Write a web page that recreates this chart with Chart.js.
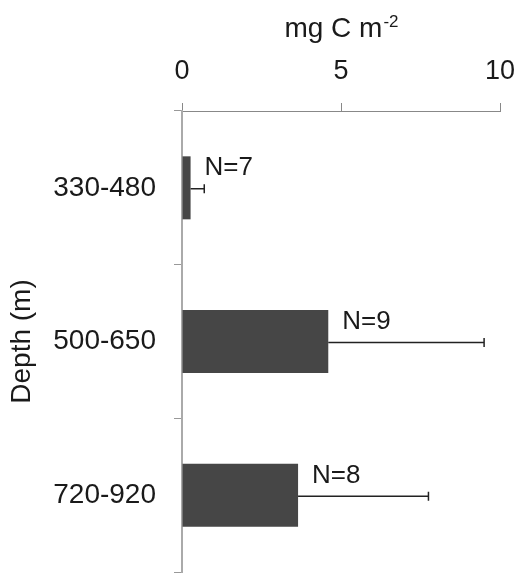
<!DOCTYPE html>
<html>
<head>
<meta charset="utf-8">
<script src="https://cdn.jsdelivr.net/npm/chart.js@4.4.0/dist/chart.umd.min.js"></script>
<style>
  html, body { margin: 0; padding: 0; background: #fff; }
</style>
</head>
<body>
<canvas id="myChart" width="517" height="574" style="width:517px;height:574px;display:block"></canvas>
<script>
// data
var depths = ['330-480', '500-650', '720-920'];
var carbon = [0.27, 4.6, 3.65];
var errors = [0.43, 4.9, 4.1];
var counts = ['N=7', 'N=9', 'N=8'];
var xTicks = [0, 5, 10];

var FONT = "'Liberation Sans', Arial, sans-serif";
var TEXT = '#1a1a1a';

// error bars + N labels
var extras = {
  id: 'extras',
  afterDatasetsDraw: function(chart) {
    var ctx = chart.ctx;
    var xs = chart.scales.x;
    var bars = chart.getDatasetMeta(0).data;
    ctx.save();
    for (var i = 0; i < bars.length; i++) {
      var b = bars[i];
      var x1 = xs.getPixelForValue(carbon[i]);
      var x2 = xs.getPixelForValue(carbon[i] + errors[i]);
      var y = b.y + 1;
      ctx.strokeStyle = '#222';
      ctx.lineWidth = 1.5;
      ctx.beginPath();
      ctx.moveTo(x1, y);
      ctx.lineTo(x2, y);
      ctx.moveTo(x2, y - 4.5);
      ctx.lineTo(x2, y + 4.5);
      ctx.stroke();

      ctx.fillStyle = TEXT;
      ctx.font = '26px ' + FONT;
      ctx.textAlign = 'left';
      ctx.textBaseline = 'alphabetic';
      ctx.fillText(counts[i], x1 + 14, b.y - b.height / 2 + 19);
    }
    ctx.restore();
  },
  afterDraw: function(chart) {
    // axis title with superscript
    var ctx = chart.ctx;
    var a = chart.chartArea;
    ctx.save();
    ctx.fillStyle = TEXT;
    ctx.textBaseline = 'alphabetic';
    ctx.textAlign = 'left';
    ctx.font = '28px ' + FONT;
    var main = 'mg C m';
    var w1 = ctx.measureText(main).width;
    ctx.font = '17px ' + FONT;
    var sup = '-2';
    var w2 = ctx.measureText(sup).width;
    var cx = (a.left + a.right) / 2;
    var x0 = cx - (w1 + w2) / 2;
    ctx.font = '28px ' + FONT;
    ctx.fillText(main, x0, 37);
    ctx.font = '17px ' + FONT;
    ctx.fillText(sup, x0 + w1 + 1, 27);
    ctx.restore();
  }
};

function noPad(scale) {
  scale.paddingLeft = 0;
  scale.paddingRight = 0;
  scale.paddingTop = 0;
  scale.paddingBottom = 0;
}

var ctx = document.getElementById('myChart').getContext('2d');
var myChart = new Chart(ctx, {
  type: 'bar',
  data: {
    labels: depths,
    datasets: [{
      data: carbon,
      backgroundColor: '#464646',
      borderWidth: 0,
      categoryPercentage: 1,
      barPercentage: 0.41
    }]
  },
  options: {
    indexAxis: 'y',
    responsive: false,
    animation: false,
    layout: { padding: { top: 0, right: 17, bottom: 2, left: 0 } },
    plugins: {
      legend: { display: false },
      tooltip: { enabled: false }
    },
    scales: {
      x: {
        position: 'top',
        min: 0,
        max: 10,
        afterBuildTicks: function(scale) {
          scale.ticks = xTicks.map(function(v) { return { value: v }; });
        },
        afterFit: function(scale) { scale.height = 111; noPad(scale); },
        grid: {
          drawOnChartArea: false,
          drawTicks: true,
          tickLength: 8,
          color: '#888',
          lineWidth: 1
        },
        border: { display: true, color: '#888', width: 1 },
        ticks: {
          color: TEXT,
          font: { family: FONT, size: 27 },
          padding: 15,
          maxRotation: 0
        }
      },
      y: {
        afterFit: function(scale) { scale.width = 182; noPad(scale); },
        grid: {
          drawOnChartArea: false,
          drawTicks: true,
          tickLength: 8,
          color: '#999',
          lineWidth: 1
        },
        border: { display: true, color: '#aaa', width: 2 },
        ticks: {
          color: TEXT,
          font: { family: FONT, size: 28 },
          padding: 18
        },
        title: {
          display: true,
          text: 'Depth (m)',
          color: TEXT,
          font: { family: FONT, size: 28 },
          padding: { top: 5, bottom: 0 }
        }
      }
    }
  },
  plugins: [extras]
});
</script>
</body>
</html>
